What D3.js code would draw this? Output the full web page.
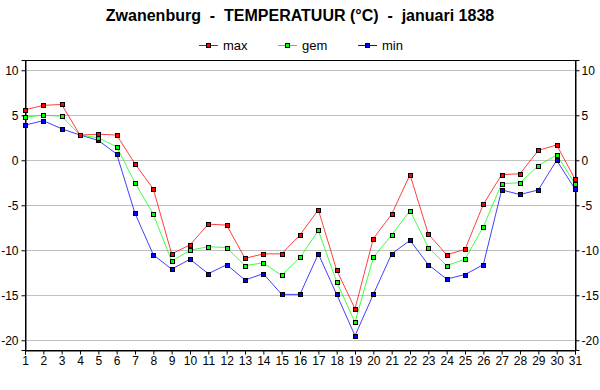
<!DOCTYPE html>
<html><head><meta charset="utf-8">
<script src="https://cdn.jsdelivr.net/npm/d3@7"></script>
<style>body{margin:0;background:#fff}svg{display:block}text{font-family:"Liberation Sans",Arial,sans-serif}</style>
</head><body><svg id="c" width="600" height="390"></svg>
<script>
const days = d3.range(1, 32);
const maxT = [5.6,6.1,6.2,2.8,2.9,2.8,-0.4,-3.2,-10.4,-9.4,-7.1,-7.2,-10.9,-10.4,-10.4,-8.3,-5.5,-12.2,-16.5,-8.7,-6.0,-1.6,-8.2,-10.5,-9.9,-4.9,-1.6,-1.5,1.1,1.7,-2.1];
const gemT = [4.8,5.0,4.9,2.8,2.5,1.5,-2.5,-6.0,-11.2,-10.0,-9.6,-9.7,-11.7,-11.4,-12.8,-10.8,-7.8,-13.5,-18.0,-10.8,-8.3,-5.6,-9.7,-11.7,-11.0,-7.4,-2.6,-2.5,-0.6,0.6,-2.6];
const minT = [3.9,4.4,3.5,2.8,2.2,0.7,-5.9,-10.5,-12.1,-11.0,-12.6,-11.6,-13.3,-12.6,-14.9,-14.9,-10.4,-14.9,-19.5,-14.9,-10.4,-8.9,-11.6,-13.2,-12.7,-11.6,-3.3,-3.8,-3.3,0.0,-3.2];
const yTicks = [-20,-15,-10,-5,0,5,10];
const seriesNames = ["max","gem","min"];
const seriesColors = ["#ff0000","#00ff00","#0000ff"];
const title = "Zwanenburg  -  TEMPERATUUR (°C)  -  januari 1838";

const svg = d3.select("#c");
const L = 25, R = 575, T = 60, B = 350;
const x = d3.scaleLinear().domain([1, 31]).range([L, R]);
const y = d3.scaleLinear().domain([-21.08, 11.14]).range([B, T]);

svg.append("text").attr("x", 300).attr("y", 21).attr("text-anchor", "middle")
  .attr("font-size", 16).attr("font-weight", "bold").style("white-space", "pre").text(title);

// gridlines
svg.append("g").selectAll("line").data(yTicks).join("line")
  .attr("x1", L).attr("x2", R)
  .attr("y1", d => Math.round(y(d)) + 0.5).attr("y2", d => Math.round(y(d)) + 0.5)
  .attr("stroke", "#c0c0c0");

// frame
svg.append("rect").attr("x", L + 0.5).attr("y", T + 0.5).attr("width", R - L).attr("height", B - T)
  .attr("fill", "none").attr("stroke", "#000");

const fmt = d => String(d);
svg.append("g").attr("transform", `translate(${L + 0.5},0)`)
  .call(d3.axisLeft(y).tickValues(yTicks).tickSize(4).tickPadding(3).tickFormat(fmt));
svg.append("g").attr("transform", `translate(${R + 0.5},0)`)
  .call(d3.axisRight(y).tickValues(yTicks).tickSize(4).tickPadding(2).tickFormat(fmt));
svg.append("g").attr("transform", `translate(0,${B + 0.5})`)
  .call(d3.axisBottom(x).tickValues(days).tickSize(4).tickPadding(2).tickFormat(fmt));
svg.selectAll(".domain").attr("stroke", "#000");
svg.selectAll(".tick text").attr("font-size", 12).attr("fill", "#000")
  .attr("font-family", '"Liberation Sans",Arial,sans-serif');
svg.selectAll(".tick line").attr("stroke", "#000");

const data = [maxT, gemT, minT];
const line = d3.line().x((d, i) => x(days[i])).y(d => y(d));
[2, 1, 0].forEach(k => {
  svg.append("path").datum(data[k]).attr("d", line).attr("fill", "none")
    .attr("stroke", seriesColors[k]).attr("stroke-width", 1).attr("stroke-opacity", 0.75);
});
[2, 1, 0].forEach(k => {
  svg.append("g").selectAll("rect").data(data[k]).join("rect")
    .attr("x", (d, i) => Math.round(x(days[i])) - 1.5).attr("y", d => Math.round(y(d)) - 1.5)
    .attr("width", 4).attr("height", 4)
    .attr("fill", seriesColors[k]).attr("stroke", "#000").attr("stroke-width", 1);
});

// legend
const lx = [199, 278, 358];
const lg = svg.append("g");
seriesNames.forEach((n, k) => {
  lg.append("line").attr("x1", lx[k]).attr("x2", lx[k] + 19).attr("y1", 45.5).attr("y2", 45.5)
    .attr("stroke", seriesColors[k]);
  lg.append("rect").attr("x", lx[k] + 7.5).attr("y", 43.5).attr("width", 4).attr("height", 4)
    .attr("fill", seriesColors[k]).attr("stroke", "#000");
  lg.append("text").attr("x", lx[k] + 24).attr("y", 50).attr("font-size", 13).text(n);
});
</script></body></html>
